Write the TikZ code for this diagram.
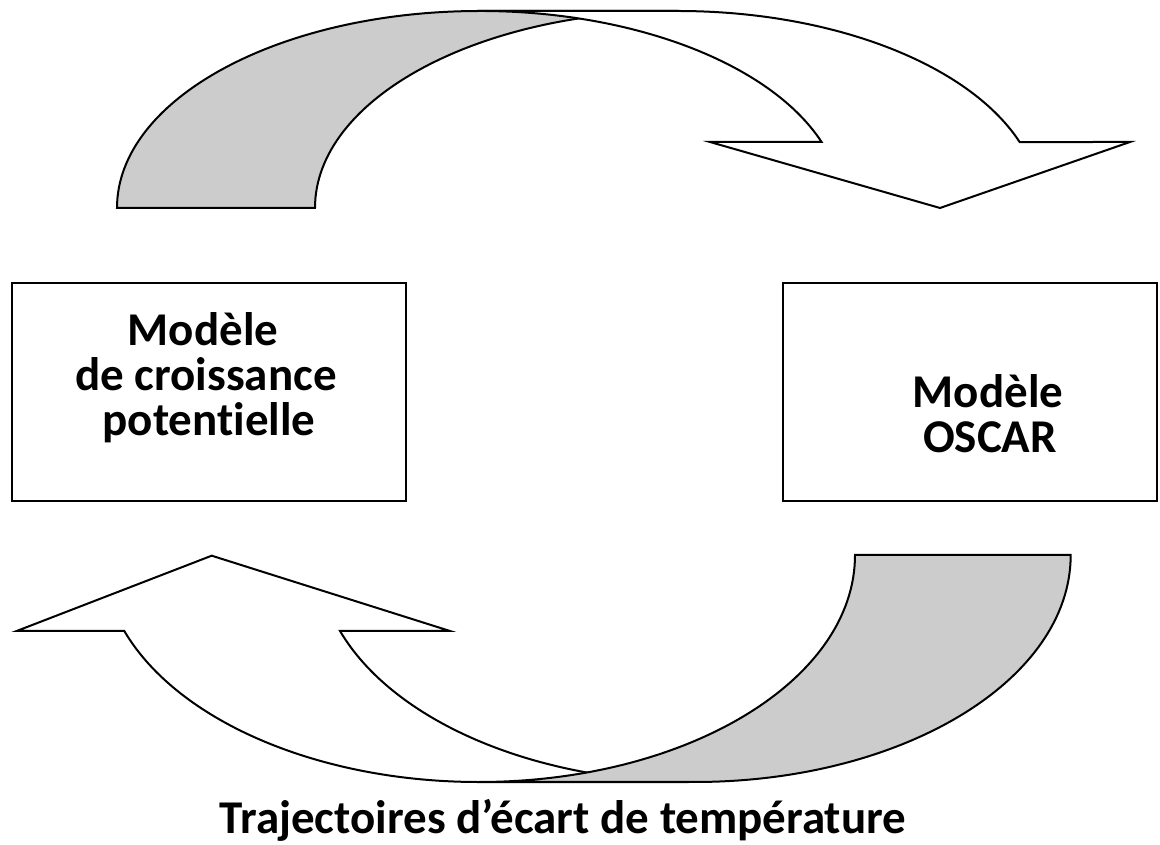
\documentclass[tikz,border=0pt]{standalone}
\usepackage{fontspec}
\setmainfont{Carlito}[Ligatures=NoCommon]
\begin{document}
\begin{tikzpicture}[x=1pt,y=1pt,
  band/.style={draw=black,line width=2pt,line join=miter},
  back/.style={band,fill=black!20},
  front/.style={band,fill=white},
  box/.style={draw=black,line width=2pt,fill=white,inner sep=0pt},
  txt/.style={inner sep=0pt,anchor=base,font=\fontsize{47}{56}\selectfont\bfseries}]
\useasboundingbox (0,0) rectangle (1160,844);

% upper curved arrow: shaded back band, then white front band with head
\draw[back] (117,636) arc[start angle=180,end angle=90,x radius=362.8,y radius=197]
  -- (677.8,833) arc[start angle=90,end angle=180,x radius=362.8,y radius=197] -- cycle;
\draw[front] (479.8,833) -- (677.8,833)
  arc[start angle=90,end angle=19.57,x radius=362.8,y radius=197]
  -- (1130,702) -- (940,636) -- (710,702) -- (821.6,702)
  arc[start angle=19.57,end angle=90,x radius=362.8,y radius=197] -- cycle;

% lower curved arrow: white band with head, then shaded band over it
\draw[front] (124.3,213)
  arc[start angle=199.56,end angle=270,x radius=376.2,y radius=227]
  -- (694.5,62)
  arc[start angle=270,end angle=199.56,x radius=376.2,y radius=227]
  -- (450,213) -- (211.7,288.3) -- (16.7,213) -- cycle;
\draw[back] (1070.7,289) arc[start angle=0,end angle=-90,x radius=376.2,y radius=227]
  -- (478.8,62) arc[start angle=-90,end angle=0,x radius=376.2,y radius=227] -- cycle;

% model boxes
\node[box,minimum width=394pt,minimum height=218pt] (growth) at (209,452) {};
\node[box,minimum width=374pt,minimum height=218pt] (oscar) at (970,452) {};

\node[txt] (g1) at (203,498) {Modèle};
\node[txt] (g2) at (206,453) {de croissance};
\node[txt] (g3) at (209,408) {potentielle};

\node[txt] (o1) at (988,436) {Modèle};
\node[txt] (o2) at (990,391) {OSCAR};

\node[txt] (traj) at (563,11) {Trajectoires d’écart de température};
\end{tikzpicture}
\end{document}
